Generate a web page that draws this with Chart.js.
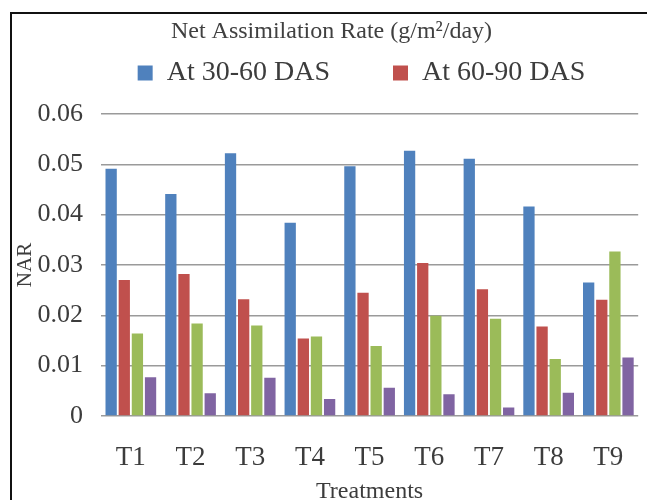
<!DOCTYPE html>
<html>
<head>
<meta charset="utf-8">
<title>Net Assimilation Rate</title>
<script src="https://cdn.jsdelivr.net/npm/chart.js@4.4.0/dist/chart.umd.min.js"></script>
<style>
    html, body { margin: 0; padding: 0; background: #fff; overflow: hidden; width: 647px; height: 500px; }
    #frame { position: absolute; left: 10px; top: 12px; width: 720px; height: 600px; border-left: 2px solid #111; border-top: 2px solid #111; }
    #wrap { position: absolute; left: 13px; top: 14px; width: 637px; height: 492px; }
</style>
</head>
<body>
<div id="frame"></div>
<div id="wrap"><canvas id="narChart" width="637" height="492"></canvas></div>
<script>
// --- Data ---
const treatments = ['T1', 'T2', 'T3', 'T4', 'T5', 'T6', 'T7', 'T8', 'T9'];
const seriesNames = ['At 30-60 DAS', 'At 60-90 DAS', 'Series 3', 'Series 4'];
const nar30to60 = [0.0491, 0.0441, 0.0522, 0.0384, 0.0496, 0.0527, 0.0511, 0.0416, 0.0265];
const nar60to90 = [0.0270, 0.0282, 0.0232, 0.0154, 0.0245, 0.0304, 0.0252, 0.0178, 0.0231];
const narSeries3 = [0.0164, 0.0184, 0.0180, 0.0158, 0.0139, 0.0199, 0.0193, 0.0113, 0.0327];
const narSeries4 = [0.0077, 0.0045, 0.0076, 0.0034, 0.0056, 0.0043, 0.0017, 0.0046, 0.0116];
const yMax = 0.06;
const yStep = 0.01;

document.addEventListener('DOMContentLoaded', () => {
    const serif = "'Liberation Serif', 'Times New Roman', serif";
    const textColor = '#3c3c3c';
    const colors = ['#4f81bd', '#c0504d', '#9bbb59', '#8064a2'];
    const values = [nar30to60, nar60to90, narSeries3, narSeries4];

    const datasets = values.map((data, i) => ({
        label: seriesNames[i],
        data: data,
        backgroundColor: colors[i],
        borderWidth: 0,
        categoryPercentage: 0.88,
        barPercentage: 0.86
    }));

    // invisible legend entry, used only to space the two visible ones
    const spacer = text => ({
        text: text,
        fillStyle: 'rgba(0,0,0,0)',
        strokeStyle: 'rgba(0,0,0,0)',
        lineWidth: 0,
        hidden: false,
        datasetIndex: -1
    });

    const ctx = document.getElementById('narChart').getContext('2d');
    new Chart(ctx, {
        type: 'bar',
        data: { labels: treatments, datasets: datasets },
        options: {
            responsive: false,
            animation: false,
            layout: { padding: 0 },
            plugins: {
                tooltip: { enabled: false },
                title: {
                    display: true,
                    text: 'Net Assimilation Rate (g/m\u00b2/day)',
                    color: '#404040',
                    font: { family: serif, size: 24, weight: 'normal' },
                    padding: { top: 3.6, bottom: 2.6 }
                },
                legend: {
                    display: true,
                    position: 'top',
                    labels: {
                        color: textColor,
                        font: { family: serif, size: 28 },
                        boxWidth: 15,
                        boxHeight: 15,
                        padding: 10,
                        // only the first two series appear in the legend
                        generateLabels: chart => {
                            const items = Chart.defaults.plugins.legend.labels.generateLabels(chart).slice(0, 2);
                            return [spacer('\u00a0\u00a0\u00a0'), items[0], spacer('\u00a0\u00a0'), items[1]];
                        }
                    }
                }
            },
            scales: {
                x: {
                    position: 'bottom',
                    grid: { display: false, drawTicks: false },
                    border: { display: false },
                    ticks: {
                        color: textColor,
                        font: { family: serif, size: 27 },
                        padding: 26,
                        maxRotation: 0
                    },
                    title: {
                        display: true,
                        text: 'Treatments',
                        color: textColor,
                        font: { family: serif, size: 24 },
                        padding: { top: 0, bottom: 0 }
                    },
                    afterFit: scale => { scale.height = 90; }
                },
                // empty top axis: keeps the gap between legend and plot
                xGap: {
                    type: 'category',
                    position: 'top',
                    grid: { display: false },
                    border: { display: false },
                    ticks: { display: false },
                    afterFit: scale => { scale.height = 17; }
                },
                y: {
                    min: 0,
                    max: yMax,
                    grid: { color: '#9a9a9a', lineWidth: 1.6, drawTicks: false },
                    border: { display: false },
                    ticks: {
                        stepSize: yStep,
                        color: textColor,
                        font: { family: serif, size: 26 },
                        padding: 18,
                        callback: v => (v === 0 ? '0' : v.toFixed(2))
                    },
                    title: {
                        display: true,
                        text: 'NAR',
                        color: textColor,
                        font: { family: serif, size: 21 },
                        padding: { top: 0, bottom: 0 }
                    },
                    afterFit: scale => { scale.width = 88; }
                }
            }
        }
    });
});
</script>
</body>
</html>
